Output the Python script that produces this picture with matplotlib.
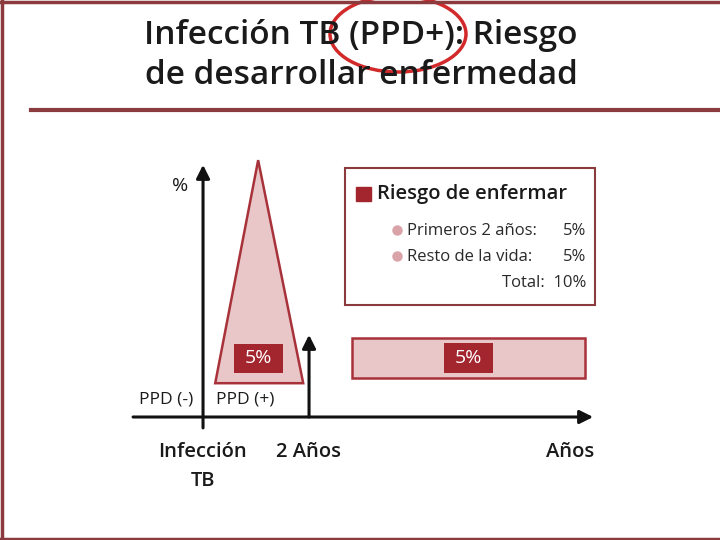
import matplotlib.pyplot as plt
from matplotlib.patches import Polygon, Rectangle, Ellipse

plt.rcParams['font.family'] = ['Open Sans', 'DejaVu Sans']

# conceptual data: x in years after infection, y in arbitrary risk units
tri_x = [0.23, 1.04, 1.89]
tri_y = [0.65, 4.94, 0.65]
bar_x = [2.81, 7.21]
bar_y = [0.75, 1.52]
risk_first = 5
risk_rest = 5
risk_total = risk_first + risk_rest

DARK = '#a3262e'
EDGE = '#a8323a'
FILL = '#e9c6c8'
FRAME = '#8b3a3e'

fig = plt.figure(figsize=(7.2, 5.4), dpi=100)

# background in pixel coords for frame, title, legend box
bg = fig.add_axes([0, 0, 1, 1])
bg.set_xlim(0, 720)
bg.set_ylim(540, 0)
bg.axis('off')
bg.plot([1.5, 1.5], [0, 540], color=FRAME, lw=2.5)
bg.plot([0, 720], [1.5, 1.5], color=FRAME, lw=2.5)
bg.plot([0, 720], [538.5, 538.5], color=FRAME, lw=2.5)
bg.plot([31, 720], [110, 110], color=FRAME, lw=3)

bg.text(361, 36, 'Infección TB (PPD+): Riesgo', ha='center', va='center',
        fontsize=24, fontweight='semibold', color='#1a1a1a')
bg.text(361, 75, 'de desarrollar enfermedad', ha='center', va='center',
        fontsize=24, fontweight='semibold', color='#1a1a1a')
bg.add_patch(Ellipse((398, 34), 136, 76, fill=False, ec='#d22a2a', lw=2.5))

# legend box
bg.add_patch(Rectangle((345, 168), 250, 137, fill=False, ec=FRAME, lw=1.5))
bg.add_patch(Rectangle((356, 187), 15, 14, color=DARK))
bg.text(377, 194, 'Riesgo de enfermar', ha='left', va='center',
        fontsize=14.5, fontweight='semibold', color='#1a1a1a')
for yy in (230, 256):
    bg.plot(397, yy, 'o', ms=6.5, color='#d9a3a8')
txt = dict(fontsize=12, color='#2a2a2a')
bg.text(407, 231, 'Primeros 2 años:', ha='left', va='center', **txt)
bg.text(586, 231, f'{risk_first}%', ha='right', va='center', **txt)
bg.text(407, 257, 'Resto de la vida:', ha='left', va='center', **txt)
bg.text(586, 257, f'{risk_rest}%', ha='right', va='center', **txt)
bg.text(586, 283, f'Total:  {risk_total}%', ha='right', va='center', **txt)

# chart
ax = fig.add_axes([0.1667, 0.0741, 0.6806, 0.6481])
ax.set_xlim(-1.566, 7.679)
ax.set_ylim(-1.596, 5.135)
ax.axis('off')
ax.patch.set_alpha(0)

ax.add_patch(Polygon(list(zip(tri_x, tri_y)), closed=True, fc=FILL, ec=EDGE, lw=1.8))
ax.add_patch(Rectangle((bar_x[0], bar_y[0]), bar_x[1] - bar_x[0], bar_y[1] - bar_y[0],
                       fc=FILL, ec=EDGE, lw=1.8))

# value tags (box size in axis units, about 49x29 px)
tag_w, tag_h = 0.92, 0.56
for cx, cy, val in [(tri_x[1], 1.13, risk_first),
                    ((bar_x[0] + bar_x[1]) / 2, sum(bar_y) / 2, risk_rest)]:
    ax.add_patch(Rectangle((cx - tag_w / 2, cy - tag_h / 2), tag_w, tag_h, fc=DARK, ec='none'))
    ax.text(cx, cy, f'{val}%', ha='center', va='center', fontsize=14, color='white')

arrow = dict(arrowstyle='-|>', lw=2.2, color='#111', mutation_scale=20, shrinkA=0, shrinkB=0)
ax.annotate('', xy=(0, 4.85), xytext=(0, -0.21), arrowprops=arrow)
ax.annotate('', xy=(7.36, 0), xytext=(-1.32, 0), arrowprops=arrow)
ax.annotate('', xy=(2.0, 1.58), xytext=(2.0, 0), arrowprops=arrow)

bg.text(180, 186, '%', ha='center', va='center', fontsize=14, color='#1a1a1a')
bg.text(166, 400, 'PPD (-)', ha='center', va='center', fontsize=12.5, color='#1a1a1a')
bg.text(245, 400, 'PPD (+)', ha='center', va='center', fontsize=12.5, color='#1a1a1a')
bg.text(203, 452, 'Infección', ha='center', va='center', fontsize=14.5,
        fontweight='semibold', color='#1a1a1a')
bg.text(203, 481, 'TB', ha='center', va='center', fontsize=14.5,
        fontweight='semibold', color='#1a1a1a')
bg.text(309, 452, '2 Años', ha='center', va='center', fontsize=14.5,
        fontweight='semibold', color='#1a1a1a')
bg.text(594, 452, 'Años', ha='right', va='center', fontsize=14.5,
        fontweight='semibold', color='#1a1a1a')

fig.savefig('out.png', dpi=100)
